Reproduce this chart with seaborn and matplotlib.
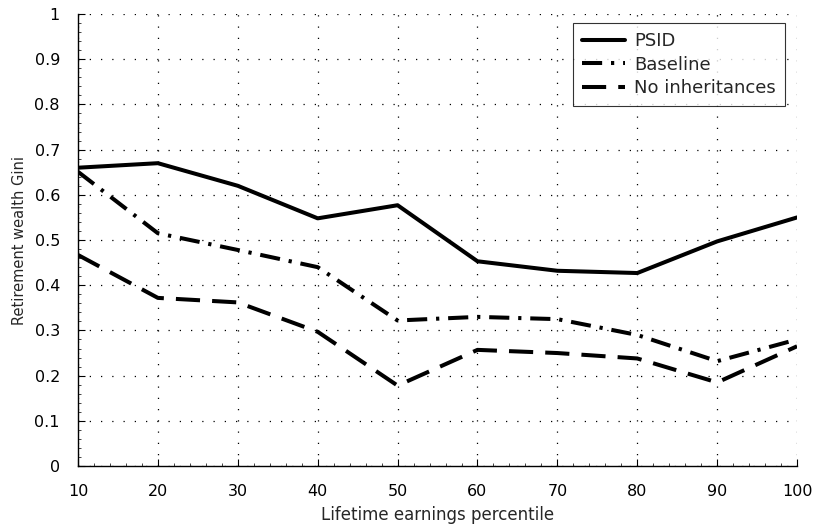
import matplotlib
matplotlib.use("Agg")
import matplotlib.pyplot as plt
import seaborn as sns
import pandas as pd
from matplotlib.ticker import MultipleLocator

percentiles = [10, 20, 30, 40, 50, 60, 70, 80, 90, 100]
psid = [0.660, 0.670, 0.620, 0.548, 0.577, 0.453, 0.432, 0.427, 0.497, 0.550]
baseline = [0.651, 0.515, 0.478, 0.440, 0.322, 0.330, 0.325, 0.290, 0.232, 0.280]
no_inherit = [0.467, 0.372, 0.362, 0.297, 0.178, 0.257, 0.250, 0.238, 0.185, 0.265]
series_names = ["PSID", "Baseline", "No inheritances"]

df = pd.DataFrame({
    "x": percentiles * 3,
    "y": psid + baseline + no_inherit,
    "series": [series_names[0]] * 10 + [series_names[1]] * 10 + [series_names[2]] * 10,
})

sns.set_theme(style="white")
plt.rcParams["font.family"] = ["DejaVu Sans"]

fig = plt.figure(figsize=(8.15, 5.29), dpi=100)
ax = fig.add_axes([0.0957, 0.119, 0.8823, 0.8545])

dash_map = {"PSID": "", "Baseline": (5, 2.2, 0.8, 2.2), "No inheritances": (6, 3)}
sns.lineplot(data=df, x="x", y="y", style="series", dashes=dash_map,
             color="black", linewidth=2.9, ax=ax, legend=True)

ax.set_xlim(10, 100)
ax.set_ylim(0, 1)
ax.xaxis.set_major_locator(MultipleLocator(10))
ax.xaxis.set_minor_locator(MultipleLocator(2))
ax.yaxis.set_minor_locator(MultipleLocator(0.02))
ax.set_yticks([i / 10 for i in range(11)])
ax.set_yticklabels(["0"] + [f"0.{i}" for i in range(1, 10)] + ["1"])
ax.tick_params(axis="both", which="major", direction="in", length=5, width=0.8,
               labelsize=11.5, colors="black")
ax.tick_params(axis="x", which="major", pad=13)
ax.tick_params(axis="y", which="major", pad=13)
ax.tick_params(axis="both", which="minor", direction="in", length=2.5, width=0.6)
ax.tick_params(axis="x", which="both", bottom=True)
ax.tick_params(axis="y", which="both", left=True)

ax.grid(True, which="major", linestyle=(0, (1, 8)), color="black", linewidth=0.9)
for s in ["top", "right"]:
    ax.spines[s].set_visible(False)
for s in ["left", "bottom"]:
    ax.spines[s].set_color("black")
    ax.spines[s].set_linewidth(1.0)

ax.set_xlabel("Lifetime earnings percentile", fontsize=12, labelpad=5)
ax.set_ylabel("Retirement wealth Gini", fontsize=10.5, labelpad=5)

leg = ax.legend(title=None, loc="upper right", bbox_to_anchor=(0.983, 0.98),
                borderaxespad=0.0,
                fontsize=13, frameon=True, fancybox=False, edgecolor="black",
                handlelength=2.4, borderpad=0.5, labelspacing=0.3, handletextpad=0.5)
leg.get_frame().set_linewidth(0.8)
for line in leg.get_lines():
    line.set_linewidth(2.9)

fig.savefig("out.png", dpi=100, facecolor="white")
